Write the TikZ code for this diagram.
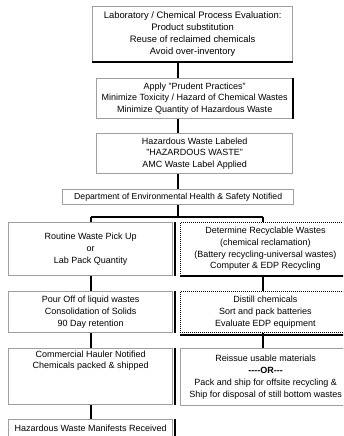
\documentclass[tikz,border=0pt]{standalone}
\usepackage{fontspec}
\setmainfont{Liberation Sans}
\usetikzlibrary{calc}
\tikzset{
  box/.style={draw=gray!75, line width=1.3pt, align=center, inner sep=0pt, anchor=north west,
    font=\fontsize{9}{11.8}\selectfont},
  dotbox/.style={draw=black, line width=0.9pt, dash pattern=on 0.9pt off 1.1pt, align=center, inner sep=0pt, anchor=north west,
    font=\fontsize{9}{11.8}\selectfont},
  conn/.style={draw=black, line width=1.9pt},
  shade/.style={draw=black, line width=1.9pt}
}
\begin{document}
\begin{tikzpicture}[x=1pt,y=-1pt]
\useasboundingbox (0,0) rectangle (343,436);
\clip (0,0) rectangle (343,436);
\fill[white] (0,0) rectangle (343,436);
% boxes
\node[box, minimum width=200pt, minimum height=55pt, font=\fontsize{9.4}{11.8}\selectfont] (b1) at (92,6)
  {Laboratory / Chemical Process Evaluation:\\Product substitution\\Reuse of reclaimed chemicals\\Avoid over-inventory};
\node[box, minimum width=196pt, minimum height=40pt] (b2) at (96,78)
  {Apply "Prudent Practices"\\Minimize Toxicity / Hazard of Chemical Wastes\\Minimize Quantity of Hazardous Waste};
\node[box, minimum width=196pt, minimum height=40pt] (b3) at (96,133)
  {Hazardous Waste Labeled\\"HAZARDOUS WASTE"\\AMC Waste Label Applied};
\node[box, minimum width=231pt, minimum height=15pt, font=\fontsize{8.7}{11}\selectfont] (dept) at (62,189)
  {Department of Environmental Health \& Safety Notified};
\node[box, minimum width=164pt, minimum height=53pt] (rout) at (8,222)
  {Routine Waste Pick Up\\or\\Lab Pack Quantity};
\node[dotbox, minimum width=170pt, minimum height=53pt] (det) at (180,222)
  {Determine Recyclable Wastes\\(chemical reclamation)\\(Battery recycling-universal wastes)\\Computer \& EDP Recycling};
\node[box, minimum width=164pt, minimum height=41pt] (pour) at (8,291)
  {Pour Off of liquid wastes\\Consolidation of Solids\\90 Day retention};
\node[dotbox, minimum width=170pt, minimum height=41pt] (dist) at (180,291)
  {Distill chemicals\\Sort and pack batteries\\Evaluate EDP equipment};
\node[box, minimum width=164pt, minimum height=56pt] (comm) at (8,348)
  {Commercial Hauler Notified\\Chemicals packed \& shipped\\[22pt]};
\node[box, minimum width=170pt, minimum height=57pt] (reis) at (180,348)
  {Reissue usable materials\\{\bfseries -{}-{}-{}-OR-{}-{}-}\\Pack and ship for offsite recycling \&\\Ship for disposal of still bottom wastes};
\node[box, minimum width=164pt, minimum height=17pt] (man) at (8,419)
  {Hazardous Waste Manifests Received};
% shadow edges
\draw[shade] (b1.south west) -- (b1.south east);
\draw[shade] (b2.north east) -- (b2.south east);
\draw[shade] ($(rout.north east)+(2,0)$) -- ($(rout.south east)+(2,0)$);
\draw[shade] (det.south west) -- (det.south east);
\draw[shade] ($(pour.north east)+(2,0)$) -- ($(pour.south east)+(2,0)$);
\draw[shade] ($(dist.south west)+(0,2)$) -- ($(dist.south east)+(0,2)$);
\draw[shade] ($(comm.north east)+(2,0)$) -- ($(comm.south east)+(2,0)$);
\draw[shade] ($(man.north east)+(2,0)$) -- ($(man.south east)+(2,0)$);
% connectors
\coordinate (xc) at (178,0);
\coordinate (xl) at (91,0);
\coordinate (xr) at (263,0);
\coordinate (yb) at (0,217);
\draw[conn] (b1.south -| xc) -- (b2.north -| xc);
\draw[conn] (b2.south -| xc) -- (b3.north -| xc);
\draw[conn] (b3.south -| xc) -- (dept.north -| xc);
\draw[conn] (dept.south -| xc) -- (xc |- yb);
\draw[conn] (xl |- yb) -- (xr |- yb);
\draw[conn] (xl |- yb) -- (rout.north -| xl);
\draw[conn] (xr |- yb) -- (det.north -| xr);
\draw[conn] (rout.south -| xl) -- (pour.north -| xl);
\draw[conn] (pour.south -| xl) -- (comm.north -| xl);
\draw[conn] (comm.south -| xl) -- (man.north -| xl);
\draw[conn] (det.south -| xr) -- (dist.north -| xr);
\draw[conn] (dist.south -| xr) -- (reis.north -| xr);
\end{tikzpicture}
\end{document}
